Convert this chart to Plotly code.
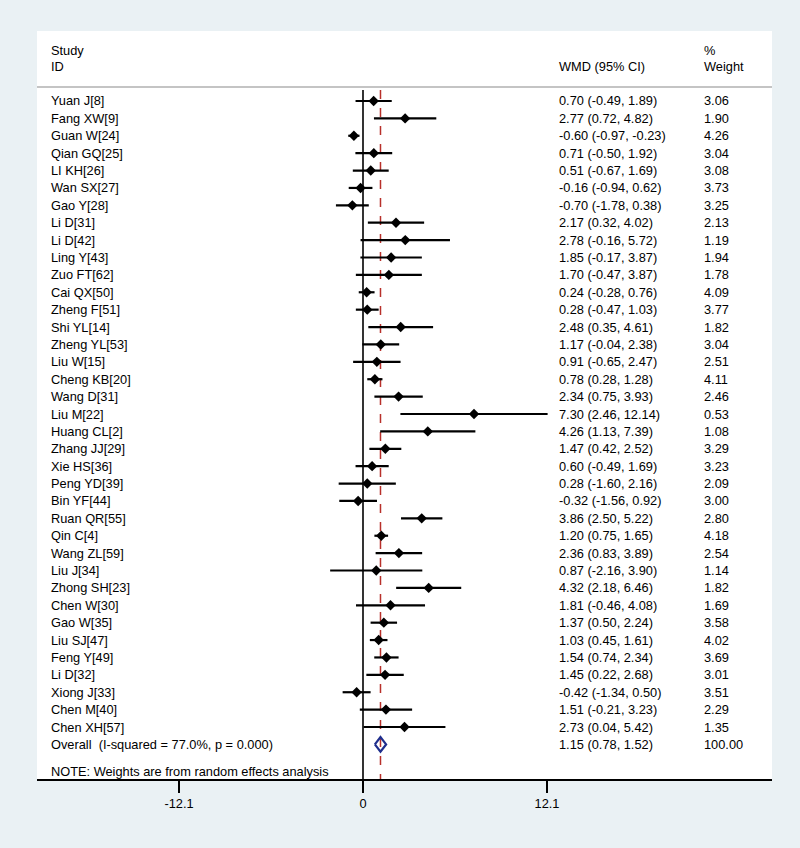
import plotly.graph_objects as go

studies = ["Yuan J[8]", "Fang XW[9]", "Guan W[24]", "Qian GQ[25]", "LI KH[26]", "Wan SX[27]",
           "Gao Y[28]", "Li D[31]", "Li D[42]", "Ling Y[43]", "Zuo FT[62]", "Cai QX[50]",
           "Zheng F[51]", "Shi YL[14]", "Zheng YL[53]", "Liu W[15]", "Cheng KB[20]", "Wang D[31]",
           "Liu M[22]", "Huang CL[2]", "Zhang JJ[29]", "Xie HS[36]", "Peng YD[39]", "Bin YF[44]",
           "Ruan QR[55]", "Qin C[4]", "Wang ZL[59]", "Liu J[34]", "Zhong SH[23]", "Chen W[30]",
           "Gao W[35]", "Liu SJ[47]", "Feng Y[49]", "Li D[32]", "Xiong J[33]", "Chen M[40]",
           "Chen XH[57]"]
wmd = [0.70, 2.77, -0.60, 0.71, 0.51, -0.16, -0.70, 2.17, 2.78, 1.85, 1.70, 0.24, 0.28, 2.48,
       1.17, 0.91, 0.78, 2.34, 7.30, 4.26, 1.47, 0.60, 0.28, -0.32, 3.86, 1.20, 2.36, 0.87,
       4.32, 1.81, 1.37, 1.03, 1.54, 1.45, -0.42, 1.51, 2.73]
lower = [-0.49, 0.72, -0.97, -0.50, -0.67, -0.94, -1.78, 0.32, -0.16, -0.17, -0.47, -0.28,
         -0.47, 0.35, -0.04, -0.65, 0.28, 0.75, 2.46, 1.13, 0.42, -0.49, -1.60, -1.56, 2.50,
         0.75, 0.83, -2.16, 2.18, -0.46, 0.50, 0.45, 0.74, 0.22, -1.34, -0.21, 0.04]
upper = [1.89, 4.82, -0.23, 1.92, 1.69, 0.62, 0.38, 4.02, 5.72, 3.87, 3.87, 0.76, 1.03, 4.61,
         2.38, 2.47, 1.28, 3.93, 12.14, 7.39, 2.52, 1.69, 2.16, 0.92, 5.22, 1.65, 3.89, 3.90,
         6.46, 4.08, 2.24, 1.61, 2.34, 2.68, 0.50, 3.23, 5.42]
weights = [3.06, 1.90, 4.26, 3.04, 3.08, 3.73, 3.25, 2.13, 1.19, 1.94, 1.78, 4.09, 3.77, 1.82,
           3.04, 2.51, 4.11, 2.46, 0.53, 1.08, 3.29, 3.23, 2.09, 3.00, 2.80, 4.18, 2.54, 1.14,
           1.82, 1.69, 3.58, 4.02, 3.69, 3.01, 3.51, 2.29, 1.35]
overall_label = "Overall\u00a0\u00a0(I-squared = 77.0%, p = 0.000)"
overall_est, overall_lo, overall_hi, overall_w = 1.15, 0.78, 1.52, 100.00
tick_vals = [-12.1, 0, 12.1]
tick_text = ["-12.1", "0", "12.1"]

n = len(studies)
rows = list(range(n))
overall_row = n

FONT = "Liberation Sans, Arial, sans-serif"
fs = 12.8

fig = go.Figure()

# CI lines
cx, cy = [], []
for i in rows:
    cx += [lower[i], upper[i], None]
    cy += [i, i, None]
fig.add_trace(go.Scatter(x=cx, y=cy, mode="lines", line=dict(color="black", width=2.2),
                         hoverinfo="skip", showlegend=False))
# point estimates
fig.add_trace(go.Scatter(x=wmd, y=rows, mode="markers",
                         marker=dict(symbol="diamond", size=8, color="black"),
                         hoverinfo="skip", showlegend=False))
# overall diamond
h = 0.42
fig.add_trace(go.Scatter(x=[overall_lo, overall_est, overall_hi, overall_est, overall_lo],
                         y=[overall_row, overall_row - h, overall_row, overall_row + h, overall_row],
                         mode="lines", line=dict(color="#1E2E8C", width=2.2),
                         hoverinfo="skip", showlegend=False))

top_row = -4.025
bottom_row = 38.99
line_top = -0.63

shapes = [
    dict(type="line", xref="x", yref="y", x0=0, x1=0, y0=line_top, y1=bottom_row,
         line=dict(color="black", width=1.6), layer="below"),
    dict(type="line", xref="x", yref="y", x0=overall_est, x1=overall_est, y0=line_top, y1=bottom_row,
         line=dict(color="#B8302A", width=1.5, dash="dash"), layer="below"),
    dict(type="line", xref="paper", yref="y", x0=0, x1=1, y0=-0.805, y1=-0.805,
         line=dict(color="#C4C4C4", width=2)),
]

col_study = 0.0163
col_wmd = 0.7075
col_w = 0.9048

ann = []
def txt(x, y, s):
    ann.append(dict(x=x, y=y, xref="paper", yref="y", text=s, showarrow=False,
                    xanchor="left", yanchor="middle", font=dict(family=FONT, size=fs, color="black")))

txt(col_study, -2.93, "Study")
txt(col_study, -1.96, "ID")
txt(col_wmd, -1.96, "WMD (95% CI)")
txt(col_w, -2.93, "%")
txt(col_w, -1.96, "Weight")
for i in rows:
    txt(col_study, i, studies[i])
    txt(col_wmd, i, f"{wmd[i]:.2f} ({lower[i]:.2f}, {upper[i]:.2f})")
    txt(col_w, i, f"{weights[i]:.2f}")
txt(col_study, overall_row, overall_label)
txt(col_wmd, overall_row, f"{overall_est:.2f} ({overall_lo:.2f}, {overall_hi:.2f})")
txt(col_w, overall_row, f"{overall_w:.2f}")
txt(col_study, 38.53, "NOTE: Weights are from random effects analysis")

px_per_unit = (547 - 363) / 12.1
x0 = -(363 - 37) / px_per_unit
x1 = (772 - 363) / px_per_unit

fig.update_layout(
    width=800, height=848,
    margin=dict(l=37, r=28, t=31, b=69),
    paper_bgcolor="#EAF1F4",
    plot_bgcolor="white",
    shapes=shapes,
    annotations=ann,
    xaxis=dict(range=[x0, x1], tickvals=tick_vals, ticktext=tick_text, ticks="outside",
               ticklen=12, tickwidth=2, tickcolor="black", showline=True, linecolor="black",
               linewidth=2, showgrid=False, zeroline=False,
               tickfont=dict(family=FONT, size=fs, color="black")),
    yaxis=dict(range=[bottom_row, top_row], visible=False, showgrid=False, zeroline=False),
    font=dict(family=FONT, size=fs, color="black"),
)

fig.write_html("out.html", config={"displayModeBar": False, "staticPlot": True},
               post_script="document.body.style.margin='0';document.body.style.background='#EAF1F4';")
